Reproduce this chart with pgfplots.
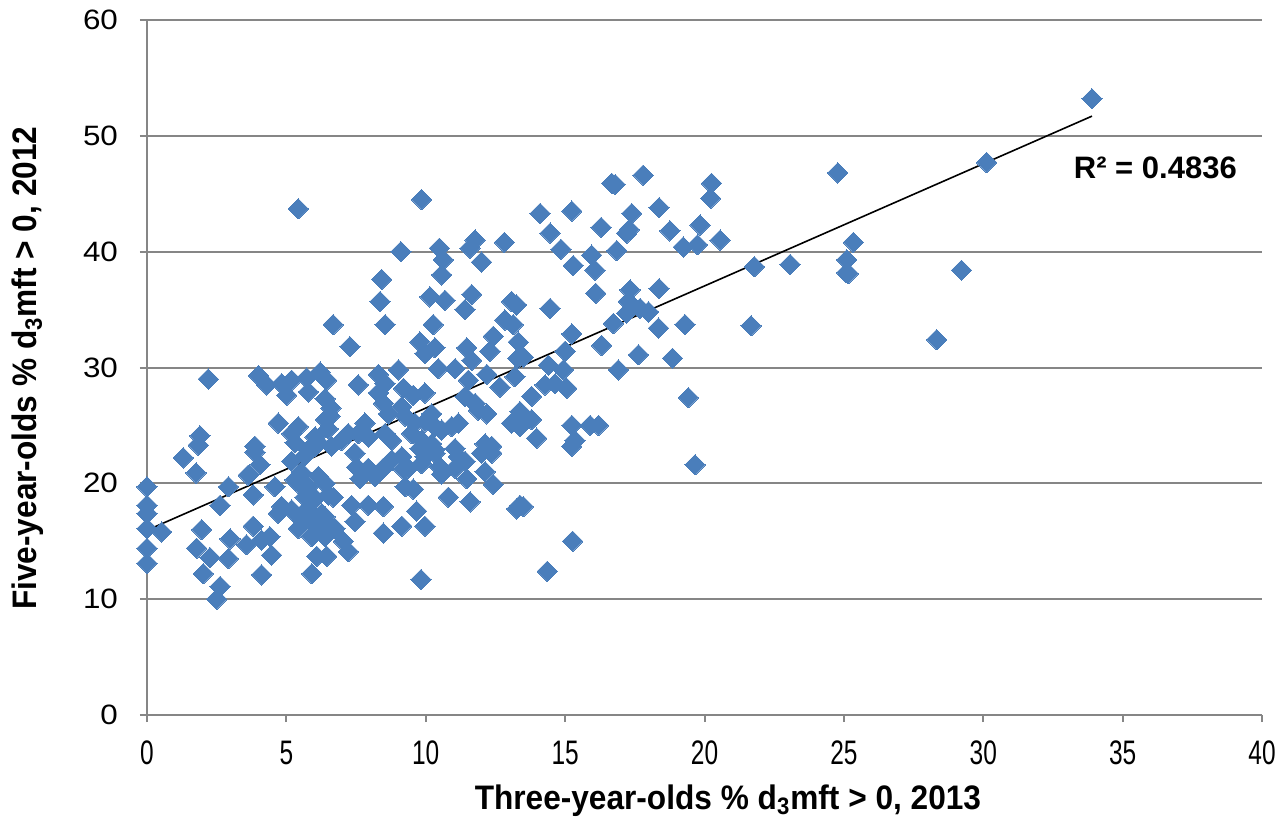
\documentclass[border=0pt]{standalone}
\usepackage{pgfplots}
\pgfplotsset{compat=1.18}
\usepackage{fontspec}
\setmainfont{Liberation Sans}
\newfontfamily\ytickfont[FakeStretch=1.12]{Liberation Sans}
\newfontfamily\xtickfont[FakeStretch=0.72]{Liberation Sans}
\newfontfamily\labelfont[FakeStretch=0.93]{Liberation Sans}
\definecolor{mk}{HTML}{4A7EBB}
\definecolor{gridgray}{HTML}{868686}
\pgfplotstableread{
x y
0 19.7
0 18.1
0 17.4
0 16.1
0 14.4
0 13.1
0.53 15.8
1.3 22.2
1.76 20.9
1.84 23.3
1.9 24.1
2.2 29.0
1.96 16.0
1.78 14.4
2.26 13.6
2.02 12.2
2.62 11.1
2.5 10.0
2.62 18.1
2.92 19.7
2.92 13.5
2.98 15.2
3.87 22.7
4.05 21.6
3.63 20.7
3.81 19.0
4.59 19.7
3.81 16.3
3.57 14.7
4.11 15.1
4.41 15.4
4.47 13.8
4.11 12.1
5.19 21.9
5.67 22.4
6.03 23.2
5.43 20.0
5.79 19.1
4.83 18.0
5.19 17.7
5.67 17.6
6.03 16.5
5.43 16.1
6.39 16.0
6.09 13.7
5.91 12.2
4.0 29.3
4.29 28.5
4.83 28.6
5.19 28.9
5.01 27.6
5.73 29.1
5.79 27.9
6.21 29.6
6.45 28.9
6.39 27.3
4.71 25.2
5.43 24.9
5.19 24.3
6.03 24.0
3.87 23.2
6.57 25.8
6.68 33.7
5.43 43.7
5.31 23.5
5.79 22.9
6.15 23.5
6.62 23.2
5.55 20.9
5.31 20.3
5.79 19.7
6.15 20.6
6.39 20.0
5.67 18.8
6.03 18.7
6.51 19.0
5.79 17.7
6.27 17.4
5.55 16.8
6.51 16.5
6.39 15.4
5.91 15.4
4.71 17.4
6.68 18.8
6.39 17.1
6.74 16.1
6.45 13.7
6.4 25.5
6.6 26.5
6.5 24.7
6.98 23.7
7.22 24.3
8.42 37.6
8.36 35.7
8.54 33.7
7.28 31.8
9.79 32.2
9.97 31.2
9.02 29.8
8.3 29.4
8.54 28.6
7.58 28.5
9.2 28.2
9.55 27.6
9.97 27.8
8.3 27.8
8.48 26.9
8.66 26.0
9.14 26.6
9.26 25.8
9.61 25.2
9.97 25.3
7.82 25.2
7.58 24.3
7.94 24.0
8.54 24.3
8.78 23.7
9.49 24.3
9.85 23.7
7.46 22.6
7.52 21.4
7.94 21.3
7.64 20.4
8.18 20.6
8.48 21.3
8.78 22.0
9.14 22.3
9.2 21.2
9.37 21.3
9.79 23.0
9.97 22.3
9.85 21.7
9.26 19.7
9.55 19.5
7.34 18.1
7.46 16.7
7.94 18.1
8.48 18.0
7.04 15.0
7.22 14.1
8.48 15.7
9.14 16.3
9.67 17.6
9.97 16.3
9.83 11.7
9.85 44.5
9.11 40.0
10.57 38.0
10.15 36.1
10.69 35.8
11.65 36.3
11.41 35.0
10.27 33.7
10.33 31.7
11.47 31.7
11.65 30.6
12.42 32.7
12.3 31.4
12.84 34.1
10.45 29.9
11.05 29.9
11.53 28.9
12.19 29.4
12.66 28.3
10.21 26.0
10.33 24.9
10.57 24.6
11.41 27.5
11.77 26.9
11.89 26.3
12.19 26.0
10.93 24.9
11.17 25.2
10.21 23.4
10.33 22.9
11.05 23.0
12.13 23.4
12.37 23.2
10.33 22.6
10.51 21.4
10.57 20.8
11.17 22.3
11.05 21.3
11.41 21.9
12.0 22.6
12.37 22.6
12.13 21.0
11.47 20.4
12.42 19.9
10.81 18.8
11.59 18.4
10.49 40.3
10.63 39.3
11.77 41.0
11.59 40.3
12.0 39.1
12.82 40.8
13.08 35.7
13.14 33.7
13.32 32.2
13.3 30.8
13.2 29.2
13.08 25.2
13.38 24.9
13.44 25.8
13.26 17.8
13.5 18.0
14.1 43.3
15.24 43.5
14.46 41.6
14.85 40.2
15.29 38.8
15.95 39.7
16.07 38.4
16.29 42.1
16.67 45.9
16.8 45.8
16.1 36.4
14.46 35.1
13.26 35.4
15.24 32.9
15.0 31.4
16.31 31.9
13.5 30.9
14.4 30.2
14.94 29.8
14.28 28.5
14.64 28.6
15.06 28.2
13.8 27.5
13.38 26.2
13.8 25.5
13.98 23.9
15.24 25.0
15.9 25.0
16.2 25.0
15.35 23.7
15.24 23.2
13.38 18.1
15.27 15.0
14.36 12.4
16.73 33.8
16.91 29.8
17.8 46.6
17.39 43.3
17.21 41.6
17.3 41.9
16.85 40.1
18.37 43.8
18.76 41.8
19.24 40.4
19.75 40.6
19.84 42.3
20.25 45.9
20.22 44.6
20.56 41.0
17.33 36.7
18.37 36.8
17.27 35.7
17.69 35.1
17.99 34.8
17.21 34.7
18.35 33.4
19.3 33.7
17.63 31.1
18.85 30.8
19.42 27.4
19.66 21.6
24.78 46.8
30.12 47.7
33.9 53.2
21.79 38.7
23.07 38.9
25.34 40.8
25.1 39.3
25.16 38.1
25.1 38.2
29.22 38.4
21.67 33.6
28.33 32.4
}\pts
\begin{document}
\begin{tikzpicture}
\begin{axis}[
  scale only axis, width=557.5pt, height=347.5pt,
  xmin=0, xmax=40, ymin=0, ymax=60,
  xtick={0,5,...,40}, ytick={0,10,...,60},
  axis x line*=bottom, axis y line*=left,
  tick align=outside,
  major tick length=3.5pt,
  axis line style={gridgray, line width=1pt},
  major tick style={gridgray, line width=1pt},
  ymajorgrids, major grid style={gridgray, line width=1pt},
  /pgf/number format/assume math mode=true,
  yticklabel style={font=\ytickfont\fontsize{14}{16}\selectfont, xshift=-7.5pt},
  xticklabel style={font=\xtickfont\fontsize{17}{19}\selectfont, yshift=-6pt},
  xlabel={Three-year-olds \% d\textsubscript{3}mft > 0, 2013},
  ylabel={Five-year-olds \% d\textsubscript{3}mft > 0, 2012},
  label style={font=\labelfont\bfseries\fontsize{17}{19}\selectfont},
  xlabel style={at={(axis description cs:0.521,0)}, anchor=center, yshift=-43pt},
  ylabel style={at={(axis description cs:0,0.499)}, anchor=center, yshift=59.5pt},
  clip=false,
]
\addplot[only marks, mark=square*, mark size=3.6pt, mark options={rotate=45, fill=mk, draw=mk, line width=0pt}] table[x=x,y=y] {\pts};
\addplot[black, line width=0.8pt, no marks] coordinates {(0,15.95) (33.9,51.7)};
\node[anchor=west, font=\bfseries\fontsize{15.5}{17}\selectfont] at (axis cs:33.0,47.2) {R² = 0.4836};
\end{axis}
\path (current axis.south west) ++(-73.5pt,-53pt) rectangle ([shift={(13pt,10pt)}]current axis.north east);
\end{tikzpicture}
\end{document}
